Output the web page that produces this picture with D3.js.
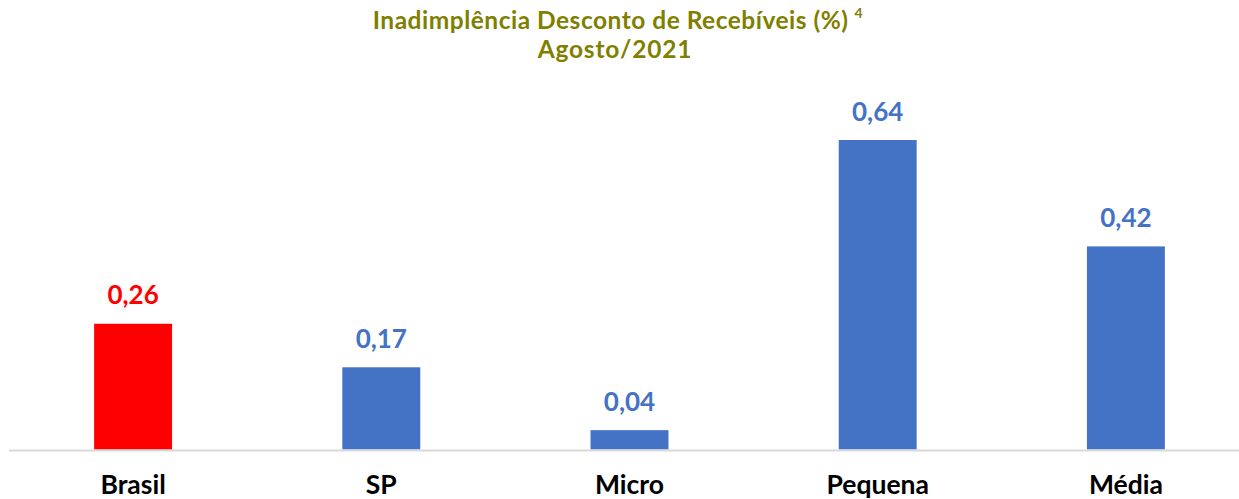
<!DOCTYPE html>
<html>
<head>
<meta charset="utf-8">
<script src="https://cdnjs.cloudflare.com/ajax/libs/d3/7.8.5/d3.min.js"></script>
<style>
  body { margin: 0; background: #fff; }
  svg { display: block; font-family: Lato, "Open Sans", sans-serif; }
</style>
</head>
<body>
<svg width="1239" height="499"></svg>
<script>
var categories = ["Brasil", "SP", "Micro", "Pequena", "Média"];
var values = [0.26, 0.17, 0.04, 0.64, 0.42];
var barColors = ["#ff0000", "#4472c4", "#4472c4", "#4472c4", "#4472c4"];
var titleLine1 = "Inadimplência Desconto de Recebíveis (%)";
var titleNote = "4";
var titleLine2 = "Agosto/2021";

var svg = d3.select("svg"),
    width = +svg.attr("width"),
    height = +svg.attr("height");

// chart area runs past the right edge, like the original crop
var x = d3.scaleBand()
    .domain(categories)
    .range([9, 1250])
    .paddingInner(0.686)
    .paddingOuter(0.343);

var y = d3.scaleLinear()
    .domain([0, 0.7])
    .range([449.5, 111]);

var fmt = function(v) { return d3.format(".2f")(v).replace(".", ","); };

var data = categories.map(function(c, i) {
    return {cat: c, val: values[i], color: barColors[i]};
});

// title
var title = svg.append("text")
    .attr("x", 618)
    .attr("y", 28.5)
    .attr("text-anchor", "middle")
    .attr("fill", "#7f7f00")
    .attr("font-weight", 700)
    .attr("font-size", 24.5)
    .attr("letter-spacing", 0.5);
title.append("tspan").text(titleLine1);
title.append("tspan")
    .attr("font-size", 14)
    .attr("dx", 6)
    .attr("dy", -11)
    .text(titleNote);

svg.append("text")
    .attr("x", 615)
    .attr("y", 58)
    .attr("text-anchor", "middle")
    .attr("fill", "#7f7f00")
    .attr("font-weight", 700)
    .attr("font-size", 24.5)
    .attr("letter-spacing", 0.8)
    .text(titleLine2);

// bars
svg.append("g")
  .selectAll("rect")
  .data(data)
  .enter().append("rect")
    .attr("x", function(d) { return x(d.cat); })
    .attr("y", function(d) { return y(d.val); })
    .attr("width", x.bandwidth())
    .attr("height", function(d) { return y(0) - y(d.val); })
    .attr("fill", function(d) { return d.color; });

// value labels
svg.append("g")
  .selectAll("text")
  .data(data)
  .enter().append("text")
    .attr("x", function(d) { return x(d.cat) + x.bandwidth() / 2; })
    .attr("y", function(d) { return y(d.val) - 19.5; })
    .attr("text-anchor", "middle")
    .attr("font-weight", 700)
    .attr("font-size", 26)
    .attr("fill", function(d) { return d.color; })
    .text(function(d) { return fmt(d.val); });

// baseline
var xAxis = d3.axisBottom(x).tickSize(0);

var xGroup = svg.append("g")
    .attr("transform", "translate(0," + (y(0) + 1) + ")")
    .call(xAxis);

xGroup.select(".domain")
    .attr("d", "M9,0H" + width)
    .attr("stroke", "#d9d9d9")
    .attr("stroke-width", 2);

xGroup.selectAll(".tick text")
    .attr("y", 0)
    .attr("dy", 43.5)
    .attr("font-family", "Lato, 'Open Sans', sans-serif")
    .attr("font-size", 26.5)
    .attr("font-weight", 700)
    .attr("fill", "#000");
</script>
</body>
</html>
